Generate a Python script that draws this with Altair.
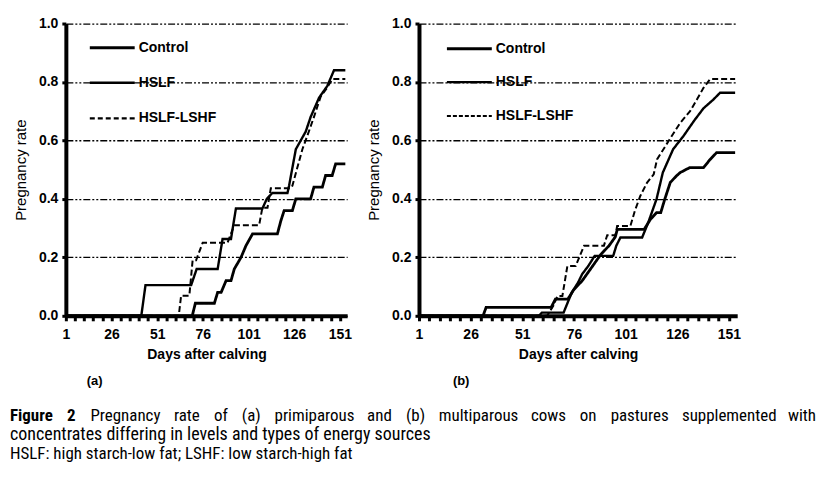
import altair as alt
import pandas as pd

GROUPS = ["Control", "HSLF", "HSLF-LSHF"]

# ---------------- Panel (a): primiparous cows ----------------
a_control_days = [1, 70.2, 71.9, 82.3, 84.1, 86, 88.7, 91.4, 93.2, 96.9, 99.6, 103.2, 116.8, 118.7, 120.5, 125, 126.9, 135, 136.8, 141.4, 143.2, 146.8, 148.7, 154]
a_control_rate = [0, 0, 0.043, 0.043, 0.08, 0.08, 0.12, 0.12, 0.16, 0.2, 0.24, 0.28, 0.28, 0.325, 0.36, 0.36, 0.40, 0.40, 0.44, 0.44, 0.48, 0.48, 0.52, 0.52]

a_hslf_days = [1, 42.3, 44.6, 69.6, 72.6, 84.1, 86.8, 91.4, 94.1, 108.6, 111, 114, 122.3, 123.2, 126.9, 132.3, 135, 139.6, 144.1, 147.8, 154]
a_hslf_rate = [0, 0, 0.105, 0.105, 0.16, 0.16, 0.263, 0.263, 0.367, 0.367, 0.40, 0.42, 0.42, 0.445, 0.57, 0.63, 0.68, 0.746, 0.786, 0.84, 0.84]

a_lshf_days = [1, 62.8, 64.1, 68.6, 70.4, 72.3, 75.9, 89.5, 93.2, 106.8, 108.6, 111.4, 113.2, 124.1, 125, 130.5, 134, 136.8, 140.5, 144, 146.8, 154]
a_lshf_rate = [0, 0, 0.069, 0.069, 0.19, 0.19, 0.25, 0.25, 0.31, 0.31, 0.37, 0.37, 0.436, 0.436, 0.445, 0.57, 0.63, 0.68, 0.75, 0.78, 0.81, 0.81]

# ---------------- Panel (b): multiparous cows ----------------
b_control_days = [1, 32, 33.5, 65, 67, 73, 76, 80, 83, 86, 89, 93, 96, 97, 110, 113, 116, 118, 120, 122.6, 125.5, 127.4, 132, 138.7, 141.9, 145, 154]
b_control_rate = [0, 0, 0.029, 0.029, 0.057, 0.057, 0.09, 0.12, 0.15, 0.18, 0.21, 0.24, 0.27, 0.296, 0.296, 0.33, 0.353, 0.353, 0.40, 0.456, 0.478, 0.49, 0.507, 0.507, 0.535, 0.558, 0.558]

b_hslf_days = [1, 59, 60.5, 71, 73, 75, 78, 80, 83, 86, 95, 96.5, 98.5, 109, 112, 116, 119, 124, 129, 134, 138.7, 143.5, 146.7, 154]
b_hslf_rate = [0, 0, 0.011, 0.011, 0.046, 0.08, 0.114, 0.143, 0.171, 0.205, 0.205, 0.24, 0.268, 0.268, 0.32, 0.40, 0.49, 0.57, 0.615, 0.666, 0.71, 0.74, 0.763, 0.763]

b_lshf_days = [1, 63, 66, 68, 70.4, 72.8, 76.8, 80.9, 90.5, 92.1, 96.1, 96.9, 103.3, 105.5, 108.1, 111.4, 114.6, 116.2, 121.8, 127.4, 132.2, 135.5, 138.7, 141.9, 154]
b_lshf_rate = [0, 0, 0.034, 0.068, 0.068, 0.17, 0.17, 0.24, 0.24, 0.276, 0.276, 0.307, 0.307, 0.36, 0.41, 0.456, 0.484, 0.535, 0.598, 0.66, 0.70, 0.74, 0.78, 0.81, 0.81]

x_ticks = list(range(1, 152, 5))
y_ticks = [0.0, 0.2, 0.4, 0.6, 0.8, 1.0]

caption_words = ["Figure", "2", "Pregnancy", "rate", "of", "(a)", "primiparous", "and", "(b)", "multiparous",
                 "cows", "on", "pastures", "supplemented", "with"]
caption_line2 = "concentrates differing in levels and types of energy sources"
caption_line3 = "HSLF: high starch-low fat; LSHF: low starch-high fat"

FONT = "Arial"
CAPFONT = "Roboto Condensed"
CAPSIZE = 17

# approximate advance widths (em) used only to justify the first caption line
_W = {"a": .544, "b": .548, "c": .510, "d": .550, "e": .517, "f": .342, "g": .548, "h": .537, "i": .237,
      "l": .237, "m": .855, "n": .539, "o": .557, "p": .548, "r": .331, "s": .503, "t": .319, "u": .538,
      "v": .473, "w": .733, "y": .463, "(": .334, ")": .340, "F": .548, "P": .631, "2": .562}


def word_width(w, bold=False):
    em = sum(_W.get(ch, .5) for ch in w) * 0.88
    if bold:
        em *= 1.05
    return em * CAPSIZE


def to_df(series):
    rows = []
    for g, days, rate in series:
        for i, (d, r) in enumerate(zip(days, rate)):
            rows.append({"group": g, "day": d, "rate": r, "i": i})
    return pd.DataFrame(rows)


dash_scale = alt.Scale(domain=GROUPS, range=[[1, 0], [1, 0], [6, 3]])
width_scale = alt.Scale(domain=GROUPS, range=[2.8, 2.0, 2.2])


def panel(df, W, H, leg, label, label_x, legend_dash):
    xaxis = alt.Axis(values=x_ticks, labelExpr="(datum.value - 1) % 25 == 0 ? datum.label : ''",
                     title="Days after calving", titleFont=FONT, titleFontSize=14, titleFontWeight="bold",
                     titleColor="black", labelFont=FONT, labelFontSize=14, labelFontWeight="bold",
                     labelColor="black", domainColor="black", domainWidth=4, tickColor="black",
                     tickWidth=3, tickSize=5, labelPadding=7, titlePadding=6, grid=False, labelFlush=False)
    yaxis = alt.Axis(values=y_ticks, format=".1f", title="Pregnancy rate", titleFont=FONT,
                     titleFontSize=15, titleFontWeight="normal", titleColor="black", labelFont=FONT,
                     labelFontSize=14, labelFontWeight="bold", labelColor="black", domainColor="black",
                     domainWidth=4, tickColor="black", tickWidth=3, tickSize=4, labelPadding=4,
                     titlePadding=10, grid=True, gridColor="black", gridWidth=1.3,
                     gridDash=[7, 2, 2, 2, 2, 2])
    base = alt.Chart(df)
    lines = base.mark_line(color="black", clip=True).encode(
        x=alt.X("day:Q", scale=alt.Scale(domain=[1, 155], nice=False, zero=False), axis=xaxis),
        y=alt.Y("rate:Q", scale=alt.Scale(domain=[0, 1], nice=False), axis=yaxis),
        detail="group:N",
        order="i:Q",
        strokeDash=alt.StrokeDash("group:N", scale=dash_scale, legend=None),
        strokeWidth=alt.StrokeWidth("group:N", scale=width_scale, legend=None),
    )
    layers = [lines]
    lx1, lx2, tx, ys = leg
    dashes = [[1, 0], [1, 0], legend_dash]
    widths = [3.2, 2.4, 2.2]
    for g, yv, dsh, wv in zip(GROUPS, ys, dashes, widths):
        one = alt.Data(values=[{"t": g}])
        layers.append(alt.Chart(one).mark_rule(color="black", strokeWidth=wv, strokeDash=dsh).encode(
            x=alt.value(lx1), x2=alt.value(lx2), y=alt.value(yv)))
        layers.append(alt.Chart(one).mark_text(align="left", baseline="middle", font=FONT, fontSize=14,
                                               fontWeight="bold", color="black").encode(
            x=alt.value(tx), y=alt.value(yv), text="t:N"))
    layers.append(alt.Chart(alt.Data(values=[{"t": label}])).mark_text(
        align="left", baseline="middle", font=FONT, fontSize=13, fontWeight="bold", color="black").encode(
        x=alt.value(label_x), y=alt.value(358), text="t:N"))
    return alt.layer(*layers).properties(width=W, height=H)


df_a = to_df([("Control", a_control_days, a_control_rate), ("HSLF", a_hslf_days, a_hslf_rate),
              ("HSLF-LSHF", a_lshf_days, a_lshf_rate)])
df_b = to_df([("Control", b_control_days, b_control_rate), ("HSLF", b_hslf_days, b_hslf_rate),
              ("HSLF-LSHF", b_lshf_days, b_lshf_rate)])

pa = panel(df_a, 282, 293, (24, 69, 73, [24.3, 59.3, 95]), "(a)", 21, [5, 3])
pb = panel(df_b, 319, 293, (28, 73, 77, [25.3, 58.7, 92.7]), "(b)", 34, [4, 2])

# caption, first line justified between page x 10 and 818 (coords relative to panel (a) origin at 66)
LEFT, RIGHT = 10 - 66, 818 - 66
ww = [word_width(w, i < 2) for i, w in enumerate(caption_words)]
gap = (RIGHT - LEFT - sum(ww)) / (len(caption_words) - 1)
xs, cur = [], LEFT
for wv in ww:
    xs.append(cur)
    cur += wv + gap
bold_rows = [{"w": w, "x": x} for i, (w, x) in enumerate(zip(caption_words, xs)) if i < 2]
norm_rows = [{"w": w, "x": x} for i, (w, x) in enumerate(zip(caption_words, xs)) if 2 <= i < len(caption_words) - 1]
last_row = [{"w": caption_words[-1], "x": RIGHT}]
cap1b = alt.Chart(alt.Data(values=bold_rows)).mark_text(
    align="left", baseline="middle", font=CAPFONT, fontSize=CAPSIZE, fontWeight="bold", color="black").encode(
    x=alt.X("x:Q", scale=None), y=alt.value(393), text="w:N")
cap1n = alt.Chart(alt.Data(values=norm_rows)).mark_text(
    align="left", baseline="middle", font=CAPFONT, fontSize=CAPSIZE, color="black").encode(
    x=alt.X("x:Q", scale=None), y=alt.value(393), text="w:N")
cap1e = alt.Chart(alt.Data(values=last_row)).mark_text(
    align="right", baseline="middle", font=CAPFONT, fontSize=CAPSIZE, color="black").encode(
    x=alt.X("x:Q", scale=None), y=alt.value(393), text="w:N")
cap2 = alt.Chart(alt.Data(values=[{"t": caption_line2}])).mark_text(
    align="left", baseline="middle", font=CAPFONT, fontSize=CAPSIZE + 1, color="black").encode(
    x=alt.value(LEFT), y=alt.value(413), text="t:N")
cap3 = alt.Chart(alt.Data(values=[{"t": caption_line3}])).mark_text(
    align="left", baseline="middle", font=CAPFONT, fontSize=CAPSIZE, color="black").encode(
    x=alt.value(LEFT), y=alt.value(432), text="t:N")

pa = alt.layer(pa, cap1b, cap1n, cap1e, cap2, cap3)

chart = alt.hconcat(pa, pb, spacing=72, bounds="flush").properties(
    padding={"left": 2, "top": 8, "right": 0, "bottom": 0}
).configure_view(stroke=None)

chart.save("out.html", embed_options={"renderer": "svg", "actions": False})
